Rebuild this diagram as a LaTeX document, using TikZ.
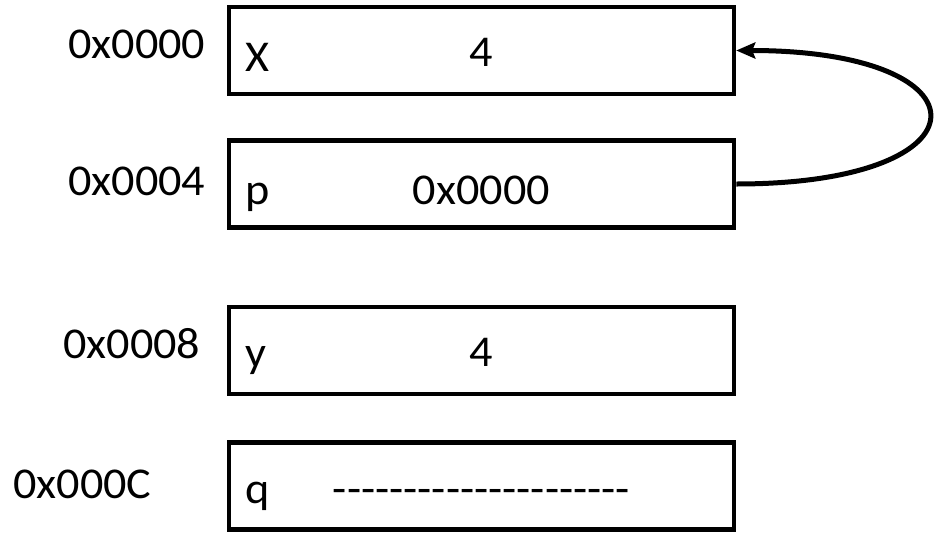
\documentclass[tikz,border=0pt]{standalone}
\usepackage{fontspec}
\setmainfont[FakeStretch=1.05]{Carlito}
\usetikzlibrary{arrows.meta,calc}

\newcommand{\blankrow}{\foreach \k in {1,...,21}{\mbox{-}}}

\begin{document}
\begin{tikzpicture}[x=1pt,y=-1pt,
    cell/.style={draw,line width=4.5pt,minimum width=505pt,minimum height=87pt,inner sep=0pt},
    txt/.style={inner sep=0pt,font=\fontsize{44pt}{52pt}\selectfont},
    addr/.style={txt,anchor=base west},
    varname/.style={txt,anchor=base west},
    content/.style={txt,anchor=base}]
      \useasboundingbox (0,0) rectangle (935,533);
      % memory cells
      \node[cell] (mx) at (481.5,50.5) {};
      \node[cell] (mp) at (481.5,184) {};
      \node[cell] (my) at (481.5,350.5) {};
      \node[cell] (mq) at (481.5,486) {};
      % addresses
      \node[addr] (ax) at (68,58) {0x0000};
      \node[addr] (ap) at (68,195) {0x0004};
      \node[addr] (ay) at (63,358) {0x0008};
      \node[addr] (aq) at (13,498) {0x000C};
      % variable names
      \node[varname] (nx) at ($(mx.west)+(19,21)$) {X};
      \node[varname] (np) at ($(mp.west)+(19,20)$) {p};
      \node[varname] (ny) at ($(my.west)+(19,17)$) {y};
      \node[varname] (nq) at ($(mq.west)+(19,17)$) {q};
      % values
      \node[content] (vx) at ($(mx.center)+(0,16)$) {4};
      \node[content] (vp) at ($(mp.center)+(0,20)$) {0x0000};
      \node[content] (vy) at ($(my.center)+(0,16)$) {4};
      \node[content] (vq) at ($(mq.center)+(0,17)$) {\blankrow};
      % pointer
      \draw[line width=5pt,-{Stealth[length=19pt,width=16pt,inset=3pt]}]
        (mp.east) .. controls +(257,0) and +(257,0) .. (mx.east);
\end{tikzpicture}
\end{document}
